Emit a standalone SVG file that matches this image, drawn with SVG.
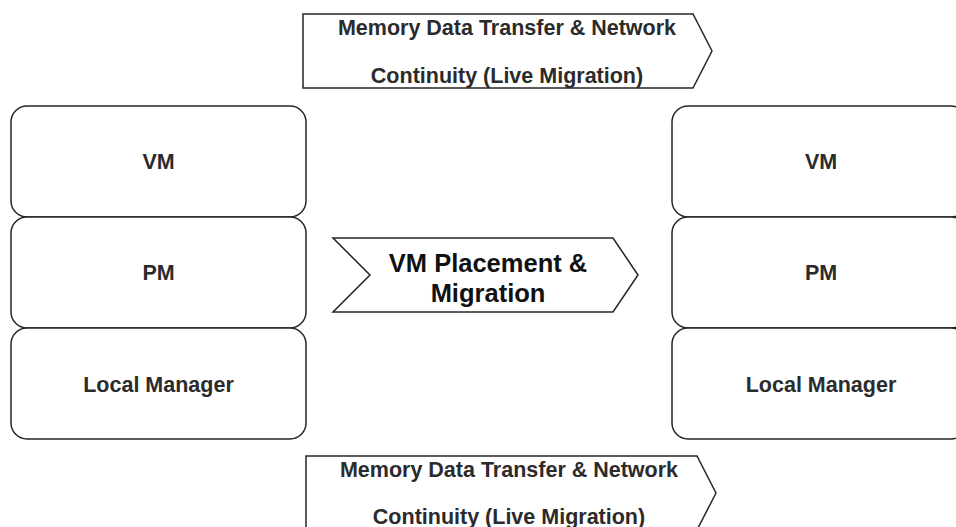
<svg xmlns="http://www.w3.org/2000/svg" width="956" height="527" viewBox="0 0 956 527">
<style>
.box{fill:#fff;stroke:#262626;stroke-width:1.5}
.t{font-family:"Liberation Sans",Arial,sans-serif;font-size:21.5px;font-weight:bold;fill:#2b2b2b;text-anchor:middle}
.c{font-family:"Liberation Sans",Arial,sans-serif;font-size:25.5px;font-weight:bold;fill:#111;text-anchor:middle}
</style>
<rect width="956" height="527" fill="#fff"/>
<g id="top-transfer">
<path class="box" d="M303,14 H693 L712,51 L693,88 H303 Z"/>
<text class="t" x="507" y="35">Memory Data Transfer &amp; Network</text>
<text class="t" x="507" y="83">Continuity (Live Migration)</text>
</g>
<g id="left-vm"><rect class="box" x="11" y="106" width="295" height="111" rx="16"/><text class="t" x="158.5" y="169">VM</text></g>
<g id="left-pm"><rect class="box" x="11" y="217" width="295" height="111" rx="16"/><text class="t" x="158.5" y="280">PM</text></g>
<g id="left-lm"><rect class="box" x="11" y="328" width="295" height="111" rx="16"/><text class="t" x="158.5" y="392">Local Manager</text></g>
<g id="placement">
<path class="box" d="M333,238 H613 L638,275 L613,312 H333 L370,275 Z"/>
<text class="c" x="488" y="272">VM Placement &amp;</text>
<text class="c" x="488" y="302">Migration</text>
</g>
<g id="right-vm"><rect class="box" x="672" y="106" width="295" height="111" rx="16"/><text class="t" x="821" y="169">VM</text></g>
<g id="right-pm"><rect class="box" x="672" y="217" width="295" height="111" rx="16"/><text class="t" x="821" y="280">PM</text></g>
<g id="right-lm"><rect class="box" x="672" y="328" width="295" height="111" rx="16"/><text class="t" x="821" y="392">Local Manager</text></g>
<g id="bottom-transfer">
<path class="box" d="M306,456 H697 L716,493 L697,530 H306 Z"/>
<text class="t" x="509" y="477">Memory Data Transfer &amp; Network</text>
<text class="t" x="509" y="524">Continuity (Live Migration)</text>
</g>
<g id="connectors"></g>
</svg>
